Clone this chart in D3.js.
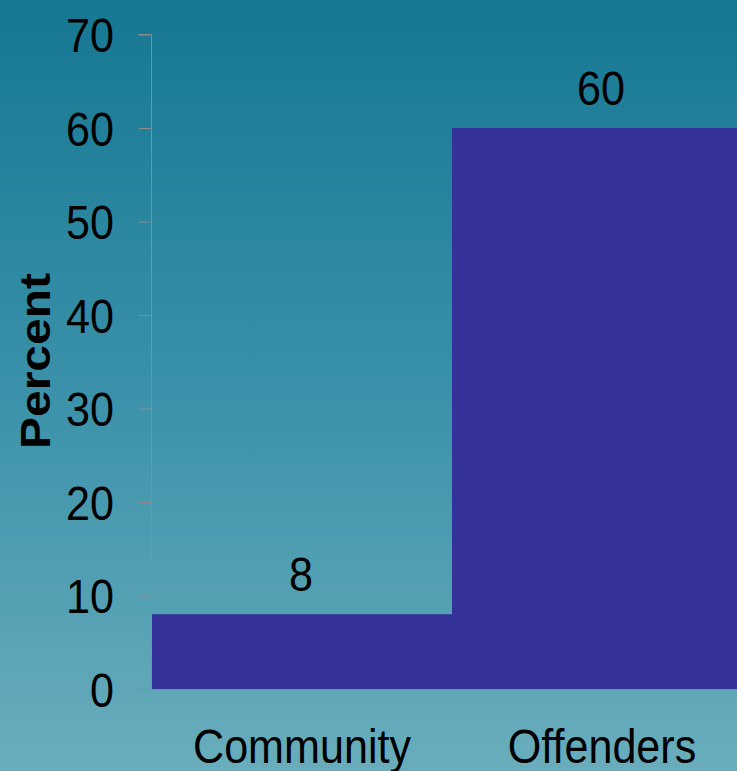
<!DOCTYPE html>
<html>
<head>
<meta charset="utf-8">
<script src="https://cdn.jsdelivr.net/npm/d3@7"></script>
<style>
  html, body { margin: 0; padding: 0; overflow: hidden; }
  svg { display: block; }
  text { font-family: "Liberation Sans", Arial, sans-serif; fill: #000; }
</style>
</head>
<body>
<script>
const categories = ["Community", "Offenders"];
const values = [8, 60];
const yTicks = [0, 10, 20, 30, 40, 50, 60, 70];
const yLabel = "Percent";

const W = 737, H = 771;
const SX = 0.88;      // horizontal squeeze of the glyphs
const FS = 49;

const svg = d3.select("body").append("svg").attr("width", W).attr("height", H);

const defs = svg.append("defs");
const grad = defs.append("linearGradient").attr("id", "bg")
  .attr("x1", 0).attr("y1", 0).attr("x2", 0).attr("y2", 1);
grad.append("stop").attr("offset", "0%").attr("stop-color", "#167792");
grad.append("stop").attr("offset", "50%").attr("stop-color", "#3a91a9");
grad.append("stop").attr("offset", "100%").attr("stop-color", "#69adbc");
svg.append("rect").attr("width", W).attr("height", H).attr("fill", "url(#bg)");

const x = d3.scaleBand().domain(categories).range([152, 752]).padding(0);
const y = d3.scaleLinear().domain([0, 70]).range([689, 34.5]);

// bars
svg.append("g").selectAll("rect").data(values).join("rect")
  .attr("x", (d, i) => x(categories[i]))
  .attr("y", d => y(d))
  .attr("width", x.bandwidth())
  .attr("height", d => y(0) - y(d))
  .attr("fill", "#35339a");

// y axis
const yAxis = d3.axisLeft(y).tickValues(yTicks).tickSize(13).tickFormat("");
const gy = svg.append("g").attr("transform", "translate(151.5,0)").call(yAxis);
gy.select(".domain").attr("stroke", "#8c8c8c").attr("d", `M-13,${y(70)}H0V${y(0)}`);
gy.selectAll(".tick line").attr("stroke", "#8c8c8c");

// x axis baseline
svg.append("line").attr("x1", 138).attr("x2", W).attr("y1", y(0) + 0.5).attr("y2", y(0) + 0.5)
  .attr("stroke", "#8c8c8c");

// y tick labels
svg.append("g").selectAll("text").data(yTicks).join("text")
  .attr("transform", d => `translate(114,${y(d) + 17.5}) scale(${SX},1)`)
  .attr("text-anchor", "end")
  .attr("font-size", FS)
  .text(d => d);

// value labels
svg.append("g").selectAll("text").data(values).join("text")
  .attr("transform", (d, i) => `translate(${x(categories[i]) + x.bandwidth() / 2 - 1},${y(d) - 23}) scale(${SX},1)`)
  .attr("text-anchor", "middle")
  .attr("font-size", FS)
  .text(d => d);

// category labels
svg.append("g").selectAll("text").data(categories).join("text")
  .attr("transform", d => `translate(${x(d) + x.bandwidth() / 2},763) scale(${SX},1)`)
  .attr("text-anchor", "middle")
  .attr("font-size", FS)
  .text(d => d);

// y axis title
svg.append("text")
  .attr("transform", `translate(50,361) scale(${SX},1) rotate(-90)`)
  .attr("text-anchor", "middle")
  .attr("font-size", 48)
  .attr("font-weight", "bold")
  .text(yLabel);
</script>
</body>
</html>
